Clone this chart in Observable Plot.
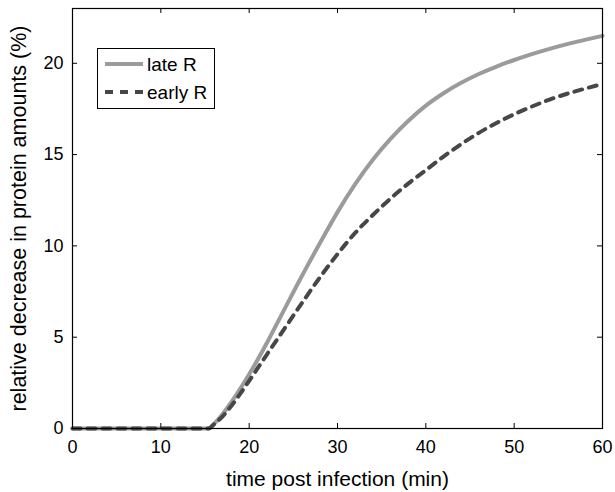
<!DOCTYPE html>
<html><head><meta charset="utf-8">
<script src="https://cdn.jsdelivr.net/npm/d3@7"></script>
<script src="https://cdn.jsdelivr.net/npm/@observablehq/plot@0.6"></script>
<style>
body{margin:0;background:#fff;}
#chart{position:relative;width:615px;height:492px;}
#legend{position:absolute;left:0;top:0;pointer-events:none;}
</style></head><body><div id="chart"></div>
<script>
// time post infection (min)
const time   = [0, 15.4, 16, 17, 18, 19, 20, 21, 22, 24, 26, 28, 30, 32, 34, 36, 38, 40, 42, 44, 46, 48, 50, 52, 54, 56, 58, 60];
// relative decrease in protein amounts (%)
const lateR  = [0, 0, 0.25, 0.8, 1.45, 2.18, 2.97, 3.8, 4.68, 6.54, 8.38, 10.14, 11.85, 13.38, 14.72, 15.86, 16.84, 17.68, 18.36, 18.93, 19.41, 19.82, 20.18, 20.5, 20.79, 21.05, 21.28, 21.5];
const earlyR = [0, 0, 0.22, 0.67, 1.25, 1.91, 2.61, 3.33, 4.05, 5.47, 6.89, 8.27, 9.55, 10.71, 11.69, 12.59, 13.41, 14.15, 14.89, 15.57, 16.19, 16.73, 17.21, 17.63, 18.01, 18.33, 18.61, 18.87];
const seriesNames = ["late R", "early R"];
const xTicks = [0, 10, 20, 30, 40, 50, 60];
const yTicks = [0, 5, 10, 15, 20];
const xTitle = "time post infection (min)";
const yTitle = "relative decrease in protein amounts (%)";

const W = 615, H = 492;
const M = {left: 72, right: 13, top: 8, bottom: 64};
const innerW = W - M.left - M.right, innerH = H - M.top - M.bottom;
const styles = [
  {stroke: "#9b9b9b", dash: null},
  {stroke: "#474747", dash: "8,7"}
];
const font = "Liberation Sans, Arial, Helvetica, sans-serif";

const late = time.map((t, i) => ({t, v: lateR[i]}));
const early = time.map((t, i) => ({t, v: earlyR[i]}));
const tickLen = 5;

const plot = Plot.plot({
  width: W, height: H,
  marginLeft: M.left, marginRight: M.right, marginTop: M.top, marginBottom: M.bottom,
  style: {fontFamily: font, fontSize: "18px", background: "white", color: "black", overflow: "visible"},
  x: {domain: [0, 60]},
  y: {domain: [0, 23]},
  marks: [
    Plot.line(late, {x: "t", y: "v", stroke: styles[0].stroke, strokeWidth: 4, curve: "monotone-x"}),
    Plot.line(early, {x: "t", y: "v", stroke: styles[1].stroke, strokeWidth: 4, strokeDasharray: styles[1].dash, curve: "monotone-x"}),
    Plot.frame({stroke: "black", strokeWidth: 1.2}),
    Plot.tickX(xTicks, {x: d => d, stroke: "black", insetTop: innerH - tickLen}),
    Plot.tickX(xTicks, {x: d => d, stroke: "black", insetBottom: innerH - tickLen}),
    Plot.tickY(yTicks, {y: d => d, stroke: "black", insetRight: innerW - tickLen}),
    Plot.tickY(yTicks, {y: d => d, stroke: "black", insetLeft: innerW - tickLen}),
    Plot.axisX(xTicks, {anchor: "bottom", tickSize: 0, tickPadding: 12, fontSize: 18, label: null}),
    Plot.axisY(yTicks, {anchor: "left", tickSize: 0, tickPadding: 9, fontSize: 18, label: null}),
    Plot.text([xTitle], {text: d => d, frameAnchor: "bottom", textAnchor: "middle", lineAnchor: "bottom", dy: 57, fontSize: 21, fill: "black"}),
    Plot.text([yTitle], {text: d => d, frameAnchor: "left", textAnchor: "middle", lineAnchor: "bottom", rotate: -90, dx: -47, dy: 0, fontSize: 21.5, fill: "black"})
  ]
});
const chart = document.getElementById("chart");
chart.appendChild(plot);

// legend overlay
const lg = d3.select(chart).append("svg").attr("id", "legend").attr("width", W).attr("height", H);
const box = {x: 97, y: 48, w: 117, h: 60, row: 28, pad: 16};
lg.append("rect").attr("x", box.x + 0.5).attr("y", box.y + 0.5).attr("width", box.w).attr("height", box.h)
  .attr("fill", "white").attr("stroke", "black").attr("stroke-width", 1);
seriesNames.forEach((name, i) => {
  const cy = box.y + box.pad + i * box.row;
  lg.append("line").attr("x1", box.x + 8).attr("x2", box.x + 46).attr("y1", cy).attr("y2", cy)
    .attr("stroke", styles[i].stroke).attr("stroke-width", 4).attr("stroke-dasharray", styles[i].dash);
  lg.append("text").attr("x", box.x + 50).attr("y", cy + 7)
    .attr("font-family", font).attr("font-size", 19).attr("fill", "black").text(name);
});
</script>
</body></html>
